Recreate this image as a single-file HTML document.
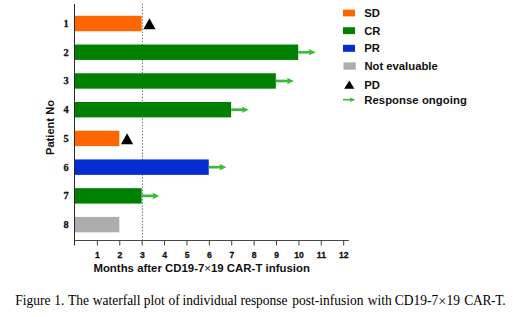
<!DOCTYPE html>
<html>
<head>
<meta charset="utf-8">
<style>
html,body{margin:0;padding:0;background:#fff;}
body{width:520px;height:317px;overflow:hidden;position:relative;}
svg{position:absolute;left:0;top:0;}
</style>
</head>
<body>
<svg width="520" height="317" viewBox="0 0 520 317">
<line x1="142.42" y1="3.7" x2="142.42" y2="240" stroke="#707070" stroke-width="1" stroke-dasharray="1.5 1.6"/>
<rect x="75.0" y="15.80" width="66.68" height="15.4" fill="#ff6600"/>
<polygon points="143.33,29.30 149.43,18.30 155.53,29.30" fill="#000"/>
<rect x="75.0" y="44.53" width="223.20" height="15.4" fill="#008000"/>
<line x1="298.20" y1="52.23" x2="310.40" y2="52.23" stroke="#38bc38" stroke-width="2.7"/>
<polygon points="308.90,48.93 315.80,52.23 308.90,55.53 310.10,52.23" fill="#38bc38"/>
<rect x="75.0" y="73.26" width="200.84" height="15.4" fill="#008000"/>
<line x1="275.84" y1="80.96" x2="288.54" y2="80.96" stroke="#38bc38" stroke-width="2.7"/>
<polygon points="287.04,77.66 293.94,80.96 287.04,84.26 288.24,80.96" fill="#38bc38"/>
<rect x="75.0" y="101.99" width="156.12" height="15.4" fill="#008000"/>
<line x1="231.12" y1="109.69" x2="243.32" y2="109.69" stroke="#38bc38" stroke-width="2.7"/>
<polygon points="241.82,106.39 248.72,109.69 241.82,112.99 243.02,109.69" fill="#38bc38"/>
<rect x="75.0" y="130.72" width="44.32" height="15.4" fill="#ff6600"/>
<polygon points="120.97,144.22 127.07,133.22 133.17,144.22" fill="#000"/>
<rect x="75.0" y="159.45" width="133.76" height="15.4" fill="#032dd0"/>
<line x1="208.76" y1="167.15" x2="220.96" y2="167.15" stroke="#38bc38" stroke-width="2.7"/>
<polygon points="219.46,163.85 226.36,167.15 219.46,170.45 220.66,167.15" fill="#38bc38"/>
<rect x="75.0" y="188.18" width="66.68" height="15.4" fill="#008000"/>
<line x1="141.68" y1="195.88" x2="153.88" y2="195.88" stroke="#38bc38" stroke-width="2.7"/>
<polygon points="152.38,192.58 159.28,195.88 152.38,199.18 153.58,195.88" fill="#38bc38"/>
<rect x="75.0" y="216.91" width="44.32" height="15.4" fill="#afacaf"/>
<g stroke="#404040" stroke-width="1" fill="none">
<line x1="74" y1="240.5" x2="348.8" y2="240.5" stroke="#484848"/>
<line x1="74.5" y1="4" x2="74.5" y2="245.5" stroke="#2a2a2a"/>
<line x1="97.39" y1="240.5" x2="97.39" y2="245.5"/>
<line x1="119.78" y1="240.5" x2="119.78" y2="245.5"/>
<line x1="142.17" y1="240.5" x2="142.17" y2="245.5"/>
<line x1="164.56" y1="240.5" x2="164.56" y2="245.5"/>
<line x1="186.95" y1="240.5" x2="186.95" y2="245.5"/>
<line x1="209.34" y1="240.5" x2="209.34" y2="245.5"/>
<line x1="231.73" y1="240.5" x2="231.73" y2="245.5"/>
<line x1="254.12" y1="240.5" x2="254.12" y2="245.5"/>
<line x1="276.51" y1="240.5" x2="276.51" y2="245.5"/>
<line x1="298.90" y1="240.5" x2="298.90" y2="245.5"/>
<line x1="321.29" y1="240.5" x2="321.29" y2="245.5"/>
<line x1="343.68" y1="240.5" x2="343.68" y2="245.5"/>
</g>
<g font-family="Liberation Sans, sans-serif" font-weight="bold" font-size="8.6" text-anchor="middle" fill="#111" stroke="#111" stroke-width="0.3">
<text x="97.49" y="257.6">1</text>
<text x="119.88" y="257.6">2</text>
<text x="142.27" y="257.6">3</text>
<text x="164.66" y="257.6">4</text>
<text x="187.05" y="257.6">5</text>
<text x="209.44" y="257.6">6</text>
<text x="231.83" y="257.6">7</text>
<text x="254.22" y="257.6">8</text>
<text x="276.61" y="257.6">9</text>
<text x="299.00" y="257.6">10</text>
<text x="321.39" y="257.6">11</text>
<text x="343.78" y="257.6">12</text>
</g>
<g font-family="Liberation Serif, serif" font-weight="bold" font-size="10.3" text-anchor="middle" fill="#111" stroke="#111" stroke-width="0.3">
<text x="66" y="26.90">1</text>
<text x="66" y="55.63">2</text>
<text x="66" y="84.36">3</text>
<text x="66" y="113.09">4</text>
<text x="66" y="141.82">5</text>
<text x="66" y="170.55">6</text>
<text x="66" y="199.28">7</text>
<text x="66" y="228.01">8</text>
</g>
<text font-family="Liberation Sans, sans-serif" font-weight="bold" font-size="11.4" x="93.4" y="272" fill="#111" textLength="216.5" lengthAdjust="spacing">Months after CD19-7<tspan font-weight="normal">×</tspan>19 CAR-T infusion</text>
<text font-family="Liberation Sans, sans-serif" font-weight="bold" font-size="11.1" fill="#111" transform="translate(53.8,155) rotate(-90)" textLength="55" lengthAdjust="spacing">Patient No</text>
<rect x="343" y="9.6" width="12" height="6.8" fill="#ff6600"/>
<rect x="343" y="27.2" width="12" height="6.9" fill="#008000"/>
<rect x="343" y="44.8" width="12" height="7" fill="#032dd0"/>
<rect x="343.5" y="62.4" width="12.3" height="7.3" fill="#afacaf"/>
<polygon points="344.2,88.8 349.3,80.6 354.4,88.8" fill="#000"/>
<line x1="343" y1="99.7" x2="351.5" y2="99.7" stroke="#3bb83b" stroke-width="1.6"/>
<polygon points="350.3,97.4 355.3,99.7 350.3,102" fill="#3bb83b"/>
<g font-family="Liberation Sans, sans-serif" font-weight="bold" font-size="11.3" fill="#111">
<text x="364.2" y="17">SD</text>
<text x="364.2" y="34.7">CR</text>
<text x="364.2" y="52.4">PR</text>
<text x="364.4" y="70" textLength="73.3" lengthAdjust="spacing">Not evaluable</text>
<text x="364.2" y="88.5">PD</text>
<text x="364.2" y="103.5" textLength="102.6" lengthAdjust="spacing">Response ongoing</text>
</g>
<text font-family="Liberation Serif, serif" font-size="13.5" y="0" fill="#000" transform="translate(0,305.4) scale(1,1.025)"><tspan x="15.3">Figure</tspan><tspan x="54.3">1.</tspan><tspan x="68.1">The</tspan><tspan x="92.7">waterfall</tspan><tspan x="143.7">plot</tspan><tspan x="168.5">of</tspan><tspan x="182.5">individual</tspan><tspan x="240.4">response</tspan><tspan x="292.2">post-infusion</tspan><tspan x="367.8">with</tspan><tspan x="394.8">CD19-7</tspan><tspan x="438.2" font-size="14.2" dy="0.6">×</tspan><tspan x="446.6" dy="-0.6">19</tspan><tspan x="464.3" letter-spacing="-0.3">CAR-T.</tspan></text>
</svg>
</body>
</html>
